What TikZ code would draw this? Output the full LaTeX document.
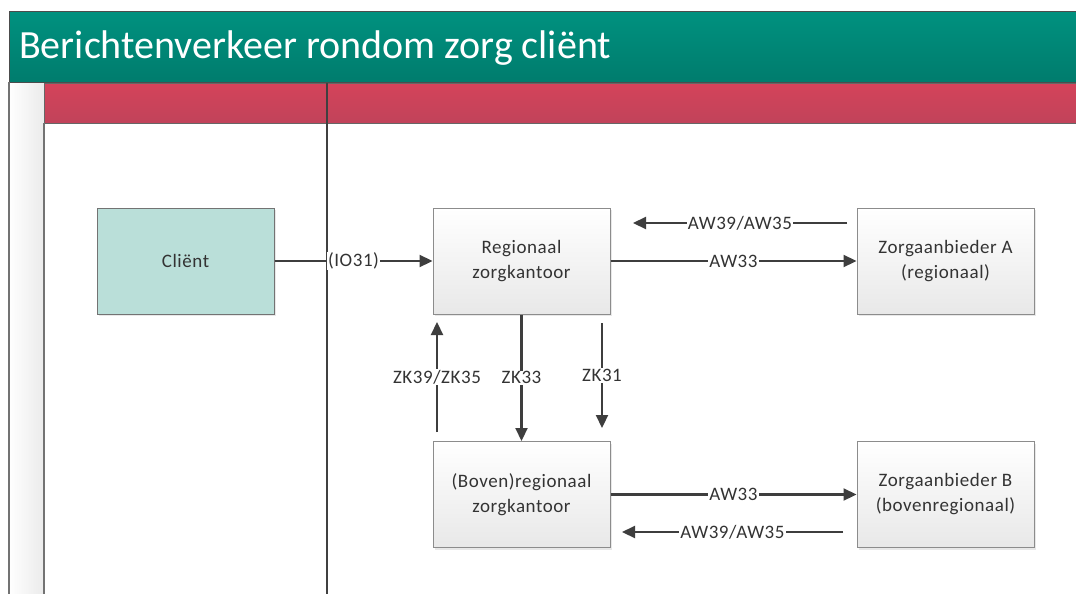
\documentclass[tikz,border=0pt]{standalone}
\usepackage{fontspec}
\setmainfont{Carlito}
\newfontfamily\spfont{Carlito}[LetterSpace=3]
\usetikzlibrary{arrows.meta,shadows}
\definecolor{tealtop}{HTML}{00917F}
\definecolor{tealbot}{HTML}{007C6D}
\definecolor{redtop}{HTML}{D4435A}
\definecolor{redbot}{HTML}{C1435A}
\definecolor{linec}{HTML}{3E3E3E}
\definecolor{boxline}{HTML}{8C8C8C}
\definecolor{clientfill}{HTML}{BADFD9}
\definecolor{txt}{HTML}{333333}
\tikzset{
  box/.style={draw=boxline, line width=1pt, top color=white, bottom color=black!9,
    minimum width=177pt, minimum height=106pt, align=center, text=txt,
    font=\spfont\fontsize{19}{25}\selectfont,
    drop shadow={opacity=0.18, shadow xshift=2pt, shadow yshift=-2pt}},
  clientbox/.style={box, top color=clientfill, bottom color=clientfill, draw=black!55},
  conn/.style={draw=linec, line width=2.2pt, -{Triangle[length=13pt,width=12pt]}},
  lbl/.style={fill=white, inner sep=1pt, text=txt, font=\spfont\fontsize{19}{22}\selectfont},
  lane/.style={draw=black!75, line width=1.2pt}
}
\begin{document}
\begin{tikzpicture}[x=1pt,y=-1pt]
\useasboundingbox (0,0) rectangle (1076,594);
\fill[white] (0,0) rectangle (1076,594);
% left strip
\shade[left color=white, right color=black!8] (9,82) rectangle (44,600);
% title bar
\path[top color=tealtop, bottom color=tealbot, draw=black!70, line width=1pt] (9,12) rectangle (1090,82);
\node[anchor=base west, inner sep=0pt, text=white, font=\fontsize{40}{44}\selectfont] (title) at (19,59) {Berichtenverkeer rondom zorg cliënt};
% red band
\path[top color=redtop, bottom color=redbot, draw=black!60, line width=1pt] (44,83) rectangle (1090,123);
% lane lines
\draw[lane, draw=black!55] (9,82) -- (9,600);
\draw[lane, draw=black!55] (44,123) -- (44,600);
\draw[lane] (327,83) -- (327,600);
% nodes
\node[clientbox] (client) at (185.5,261) {Cliënt};
\node[box] (reg) at (521.5,261) {Regionaal\\zorgkantoor};
\node[box] (zA) at (945.5,261) {Zorgaanbieder A\\(regionaal)};
\node[box] (boven) at (521.5,494.5) {(Boven)regionaal\\zorgkantoor};
\node[box] (zB) at (945.5,494.5) {Zorgaanbieder B\\(bovenregionaal)};
% free ends
\coordinate (t1s) at (847,223);
\coordinate (t1e) at (633,223);
\coordinate (b1s) at (843,532);
\coordinate (b1e) at (622,532);
\coordinate (v1s) at (437,432);
\coordinate (v1e) at (437,322);
\coordinate (v3s) at (602,323);
\coordinate (v3e) at (602,428);
% connectors
\draw[conn] (client) -- node[lbl] {(IO31)} (reg);
\draw[conn] (reg) -- node[lbl] {AW33} (zA);
\draw[conn] (t1s) -- node[lbl] {AW39/AW35} (t1e);
\draw[conn] (boven) -- node[lbl] {AW33} (zB);
\draw[conn] (b1s) -- node[lbl] {AW39/AW35} (b1e);
\draw[conn] (v1s) -- node[lbl] {ZK39/ZK35} (v1e);
\draw[conn] (reg) -- node[lbl] {ZK33} (boven);
\draw[conn] (v3s) -- node[lbl] {ZK31} (v3e);
\end{tikzpicture}
\end{document}
